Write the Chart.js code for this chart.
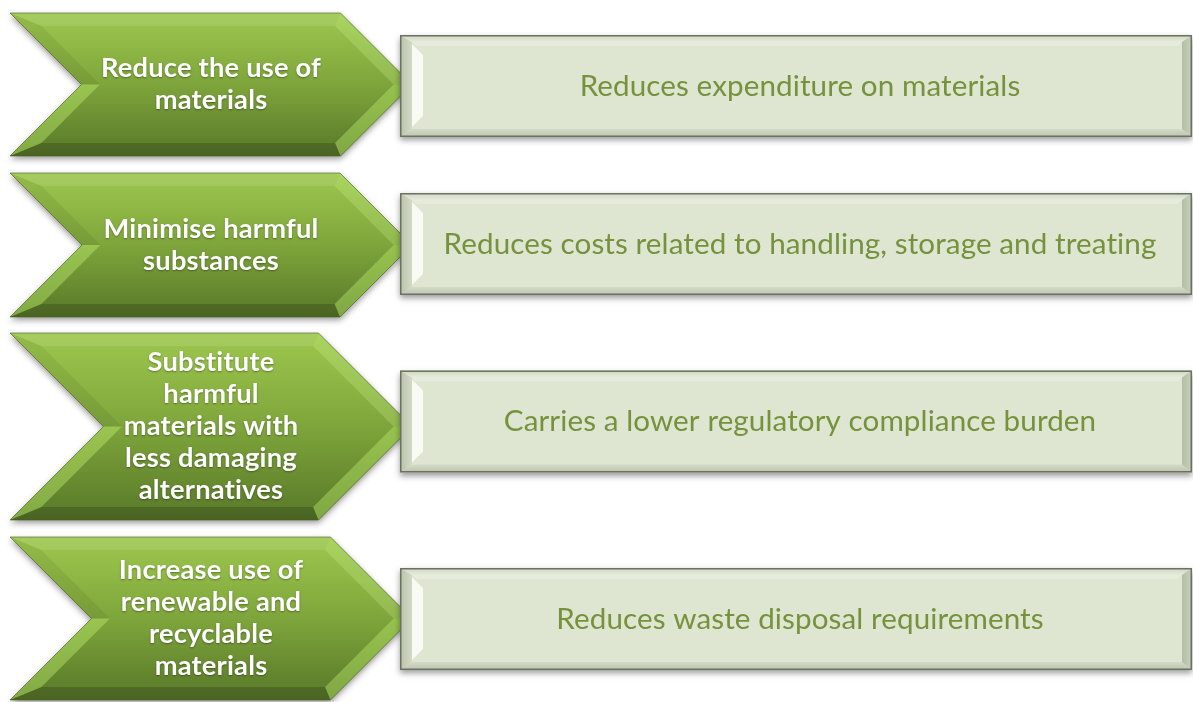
<!DOCTYPE html>
<html>
<head>
<meta charset="utf-8">
<script src="https://cdn.jsdelivr.net/npm/chart.js@4.4.0/dist/chart.umd.min.js"></script>
<style>
html,body{margin:0;padding:0;background:#ffffff;overflow:hidden}
canvas{display:block}
</style>
</head>
<body>
<canvas id="c" width="1193" height="702"></canvas>
<script>
// ---------- DATA ----------
const strategies = [
  ["Reduce the use of", "materials"],
  ["Minimise harmful", "substances"],
  ["Substitute", "harmful", "materials with", "less damaging", "alternatives"],
  ["Increase use of", "renewable and", "recyclable", "materials"]
];
const benefits = [
  "Reduces expenditure on materials",
  "Reduces costs related to handling, storage and treating",
  "Carries a lower regulatory compliance burden",
  "Reduces waste disposal requirements"
];

// ---------- LAYOUT (diagram units on a 1193 x 702 grid) ----------
const chevronSpan = [10, 412];
const boxSpan = [400, 1192];
const chevronTop = [13, 173, 333, 537];
const chevronBottom = [156, 317, 520, 700];
const boxCenter = [86, 244, 421.5, 619];
const labelX = 211;
const benefitX = 800;

// ---------- STYLE ----------
const BOX_THICKNESS = 102;
const LABEL_FONT = "bold 27.3px Lato";
const LABEL_LINE = 32;
const BENEFIT_FONT = "29.6px Lato";
const BENEFIT_COLOR = "#76923c";

function poly(ctx, pts) {
  ctx.beginPath();
  ctx.moveTo(pts[0][0], pts[0][1]);
  for (let k = 1; k < pts.length; k++) ctx.lineTo(pts[k][0], pts[k][1]);
  ctx.closePath();
}

function drawChevron(ctx, L, R, T, B) {
  const h = (B - T) / 2, M = T + h, d = h;
  const b = 13;
  const s = b * Math.sqrt(d * d + h * h) / h;
  const h2 = h - b, d2 = d * h2 / h;
  const R2 = R - s, N2 = L + d + s;
  const o = [[L, T], [R - d, T], [R, M], [R - d, B], [L, B], [L + d, M]];
  const i = [[N2 - d2, T + b], [R2 - d2, T + b], [R2, M], [R2 - d2, B - b], [N2 - d2, B - b], [N2, M]];
  const g = ctx.createLinearGradient(0, T, 0, B);
  g.addColorStop(0, "#9dc84e");
  g.addColorStop(0.5, "#7ea53b");
  g.addColorStop(1, "#587829");
  ctx.save();
  ctx.shadowColor = "rgba(0,0,0,0.4)";
  ctx.shadowBlur = 6;
  ctx.shadowOffsetY = 3;
  poly(ctx, o);
  ctx.fillStyle = g;
  ctx.fill();
  ctx.restore();
  const facets = [
    [o[0], o[1], i[1], i[0], "rgba(255,255,255,0.10)"],
    [o[1], o[2], i[2], i[1], "rgba(220,255,160,0.22)"],
    [o[2], o[3], i[3], i[2], "rgba(190,240,110,0.40)"],
    [o[3], o[4], i[4], i[3], "rgba(0,0,0,0.16)"],
    [o[4], o[5], i[5], i[4], "rgba(190,240,110,0.42)"],
    [o[5], o[0], i[0], i[5], "rgba(0,0,0,0.06)"]
  ];
  facets.forEach(f => {
    poly(ctx, [f[0], f[1], f[2], f[3]]);
    ctx.fillStyle = f[4];
    ctx.fill();
  });
  poly(ctx, o);
  ctx.strokeStyle = "rgba(70,95,30,0.6)";
  ctx.lineWidth = 1;
  ctx.stroke();
}

function drawBox(ctx, x0, x1, y0, y1) {
  ctx.save();
  ctx.shadowColor = "rgba(0,0,0,0.4)";
  ctx.shadowBlur = 6;
  ctx.shadowOffsetY = 3;
  ctx.fillStyle = "#dee5d0";
  ctx.fillRect(x0, y0, x1 - x0, y1 - y0);
  ctx.restore();
  const fl = 12, ft = 7, fr = 10, fb = 8;
  const gl = ctx.createLinearGradient(x0, 0, x0 + fl, 0);
  gl.addColorStop(0, "#b9c1ab");
  gl.addColorStop(1, "#d3dbc6");
  poly(ctx, [[x0, y0], [x0 + fl, y0 + ft], [x0 + fl, y1 - fb], [x0, y1]]);
  ctx.fillStyle = gl; ctx.fill();
  const gt = ctx.createLinearGradient(0, y0, 0, y0 + ft);
  gt.addColorStop(0, "#cdd5c0");
  gt.addColorStop(1, "#e6ecdc");
  poly(ctx, [[x0, y0], [x1, y0], [x1 - fr, y0 + ft], [x0 + fl, y0 + ft]]);
  ctx.fillStyle = gt; ctx.fill();
  const gb = ctx.createLinearGradient(0, y1 - fb, 0, y1);
  gb.addColorStop(0, "#d3dac6");
  gb.addColorStop(1, "#bcc4ae");
  poly(ctx, [[x0, y1], [x0 + fl, y1 - fb], [x1 - fr, y1 - fb], [x1, y1]]);
  ctx.fillStyle = gb; ctx.fill();
  const gr = ctx.createLinearGradient(x1 - fr, 0, x1, 0);
  gr.addColorStop(0, "#b4bda5");
  gr.addColorStop(1, "#c9d1bb");
  poly(ctx, [[x1, y0], [x1, y1], [x1 - fr, y1 - fb], [x1 - fr, y0 + ft]]);
  ctx.fillStyle = gr; ctx.fill();
  const hw = 11;
  poly(ctx, [[x0 + fl, y0 + ft + 2], [x0 + fl + hw, y0 + ft + 2 + hw], [x0 + fl + hw, y1 - fb - 2 - hw], [x0 + fl, y1 - fb - 2]]);
  ctx.fillStyle = "#f8faf3"; ctx.fill();
  poly(ctx, [[x0 + fl, y0 + ft], [x1 - fr, y0 + ft], [x1 - fr - 4, y0 + ft + 4], [x0 + fl + 4, y0 + ft + 4]]);
  ctx.fillStyle = "rgba(255,255,255,0.25)"; ctx.fill();
  ctx.strokeStyle = "#6a7262";
  ctx.lineWidth = 1.5;
  ctx.strokeRect(x0 + 0.75, y0 + 0.75, x1 - x0 - 1.5, y1 - y0 - 1.5);
}

const diagramPlugin = {
  id: "diagram",
  beforeDatasetsDraw(chart) {
    const ctx = chart.ctx;
    const xs = chart.scales.x, ys = chart.scales.y;
    const chev = chart.getDatasetMeta(0).data;
    const boxes = chart.getDatasetMeta(1).data;
    chev.forEach((el, i) => {
      const T = ys.getPixelForValue(chevronTop[i]);
      const B = ys.getPixelForValue(chevronBottom[i]);
      drawChevron(ctx, Math.min(el.base, el.x), Math.max(el.base, el.x), T, B);
    });
    boxes.forEach((el) => {
      drawBox(ctx, Math.min(el.base, el.x), Math.max(el.base, el.x), el.y - el.height / 2, el.y + el.height / 2);
    });
    ctx.save();
    ctx.textAlign = "center";
    ctx.textBaseline = "middle";
    ctx.font = LABEL_FONT;
    if ("letterSpacing" in ctx) ctx.letterSpacing = "0.2px";
    ctx.fillStyle = "#ffffff";
    ctx.shadowColor = "rgba(0,0,0,0.35)";
    ctx.shadowBlur = 2;
    ctx.shadowOffsetY = 1;
    const lx = xs.getPixelForValue(labelX);
    chev.forEach((el, i) => {
      const lines = strategies[i];
      const start = el.y - (lines.length - 1) * LABEL_LINE / 2;
      lines.forEach((t, k) => ctx.fillText(t, lx, start + k * LABEL_LINE));
    });
    ctx.restore();
    ctx.save();
    ctx.textAlign = "center";
    ctx.textBaseline = "middle";
    ctx.font = BENEFIT_FONT;
    if ("letterSpacing" in ctx) ctx.letterSpacing = "0.1px";
    ctx.fillStyle = BENEFIT_COLOR;
    const bx = xs.getPixelForValue(benefitX);
    boxes.forEach((el, i) => ctx.fillText(benefits[i], bx, el.y));
    ctx.restore();
    return false;
  }
};

new Chart(document.getElementById("c"), {
  type: "bar",
  data: {
    datasets: [
      {
        label: "Strategy",
        data: strategies.map((s, i) => ({ y: (chevronTop[i] + chevronBottom[i]) / 2, x: chevronSpan.slice() })),
        grouped: false,
        barThickness: 10,
        backgroundColor: "#7ea53b"
      },
      {
        label: "Benefit",
        data: benefits.map((s, i) => ({ y: boxCenter[i], x: boxSpan.slice() })),
        grouped: false,
        barThickness: BOX_THICKNESS,
        backgroundColor: "#dee5d0"
      }
    ]
  },
  options: {
    indexAxis: "y",
    responsive: false,
    animation: false,
    layout: { padding: 0 },
    scales: {
      x: { type: "linear", min: 0, max: 1193, offset: false, display: false },
      y: { type: "linear", min: 0, max: 702, reverse: true, offset: false, display: false }
    },
    plugins: { legend: { display: false }, tooltip: { enabled: false } }
  },
  plugins: [diagramPlugin]
});
</script>
</body>
</html>
